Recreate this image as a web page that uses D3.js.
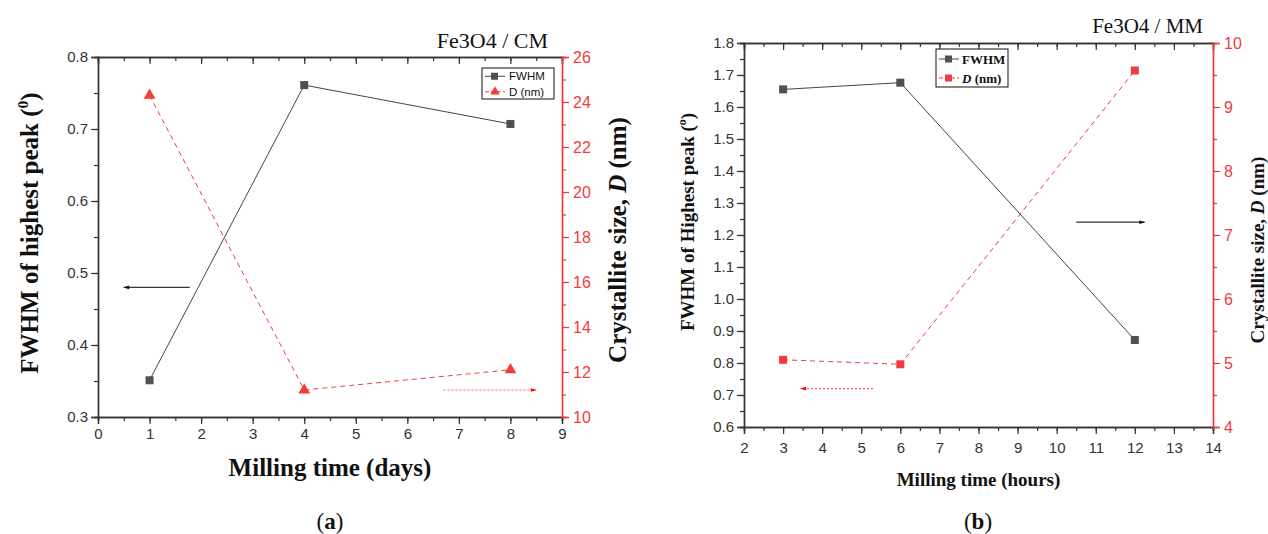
<!DOCTYPE html>
<meta charset="utf-8">
<script src="https://d3js.org/d3.v7.min.js"></script>
<style>
  body { margin: 0; background: #fff; }
  .tick text { font-family: "Liberation Sans", Arial, sans-serif; }
</style>
<div id="chart"></div>
<script>
// panel (a): Fe3O4 / CM
const daysCM = [1, 4, 8];
const fwhmCM = [0.351, 0.761, 0.707];
const sizeCM = [24.3, 11.2, 12.1];
// panel (b): Fe3O4 / MM
const hoursMM = [3, 6, 12];
const fwhmMM = [1.655, 1.676, 0.872];
const sizeMM = [5.05, 4.98, 9.57];

const red = "#f03c3c";
const grey = "#454545";

const svg = d3.select("#chart").append("svg")
  .attr("width", 1268).attr("height", 534);

const defs = svg.append("defs");
function arrowHead(id, color) {
  defs.append("marker").attr("id", id)
    .attr("viewBox", "0 0 10 10").attr("refX", 9).attr("refY", 5)
    .attr("markerWidth", 9).attr("markerHeight", 6).attr("orient", "auto")
    .attr("markerUnits", "userSpaceOnUse")
    .append("path").attr("d", "M0,2 L10,5 L0,8 Z").attr("fill", color);
}
arrowHead("arrBlack", "#111");
arrowHead("arrRed", "red");

function drawPanel(p) {
  const g = svg.append("g");
  const x = d3.scaleLinear().domain(p.xDomain).range([p.left, p.right]);
  const y = d3.scaleLinear().domain(p.yDomain).range([p.bottom, p.top]);
  const y2 = d3.scaleLinear().domain(p.y2Domain).range([p.bottom, p.top]);

  // bottom axis
  g.append("g").attr("transform", `translate(0,${p.bottom})`)
    .call(d3.axisBottom(x).tickValues(d3.range(p.xDomain[0], p.xDomain[1] + 0.01, p.xMinor)).tickSize(4).tickFormat(""));
  g.append("g").attr("transform", `translate(0,${p.bottom})`)
    .call(d3.axisBottom(x).tickValues(d3.range(p.xDomain[0], p.xDomain[1] + 0.01, 1)).tickSize(7).tickPadding(p.xPad).tickFormat(d3.format("d")));
  // top axis, ticks inward
  g.append("g").attr("transform", `translate(0,${p.top})`)
    .call(d3.axisBottom(x).tickValues(d3.range(p.xDomain[0], p.xDomain[1] + 0.01, p.xMinor)).tickSize(4).tickFormat(""));
  g.append("g").attr("transform", `translate(0,${p.top})`)
    .call(d3.axisBottom(x).tickValues(d3.range(p.xDomain[0], p.xDomain[1] + 0.01, 1)).tickSize(7).tickFormat(""));
  // left axis
  g.append("g").attr("transform", `translate(${p.left},0)`)
    .call(d3.axisLeft(y).tickValues(d3.range(p.yDomain[0], p.yDomain[1] + 0.001, p.yMinor)).tickSize(4).tickFormat(""));
  g.append("g").attr("transform", `translate(${p.left},0)`)
    .call(d3.axisLeft(y).tickValues(d3.range(p.yDomain[0], p.yDomain[1] + 0.001, p.yStep)).tickSize(7).tickPadding(3).tickFormat(d3.format(".1f")));
  // right axis (red)
  g.append("g").attr("class", "red").attr("transform", `translate(${p.right},0)`)
    .call(d3.axisRight(y2).tickValues(d3.range(p.y2Domain[0], p.y2Domain[1] + 0.001, p.y2Minor)).tickSize(4).tickFormat(""));
  g.append("g").attr("class", "red").attr("transform", `translate(${p.right},0)`)
    .call(d3.axisRight(y2).tickValues(d3.range(p.y2Domain[0], p.y2Domain[1] + 0.001, p.y2Step)).tickSize(7).tickPadding(4).tickFormat(d3.format("d")));

  g.selectAll(".domain").attr("stroke", "#333").attr("stroke-width", 1.4);
  g.selectAll(".tick line").attr("stroke", "#333").attr("stroke-width", 1.2);
  g.selectAll(".tick text").attr("fill", "#333").attr("font-size", p.tickFont);
  g.selectAll(".red .domain, .red .tick line").attr("stroke", red);
  g.selectAll(".red .tick text").attr("fill", red).attr("font-size", p.tickFont + 1);

  // FWHM series
  const pts = p.xs.map((d, i) => ({ x: d, f: p.fwhm[i], s: p.size[i] }));
  g.append("path").datum(pts)
    .attr("fill", "none").attr("stroke", grey).attr("stroke-width", 1)
    .attr("d", d3.line().x(d => x(d.x)).y(d => y(d.f)));
  g.selectAll(".sq").data(pts).join("rect")
    .attr("x", d => x(d.x) - 4).attr("y", d => y(d.f) - 4)
    .attr("width", 8).attr("height", 8).attr("fill", "#505050");

  // D series
  g.append("path").datum(pts)
    .attr("fill", "none").attr("stroke", red).attr("stroke-width", 1)
    .attr("stroke-dasharray", "5,4")
    .attr("d", d3.line().x(d => x(d.x)).y(d => y2(d.s)));
  if (p.triangle) {
    g.selectAll(".tri").data(pts).join("path")
      .attr("transform", d => `translate(${x(d.x)},${y2(d.s)})`)
      .attr("d", d3.symbol(d3.symbolTriangle, 60)).attr("fill", red);
  } else {
    g.selectAll(".rsq").data(pts).join("rect")
      .attr("x", d => x(d.x) - 4).attr("y", d => y2(d.s) - 4)
      .attr("width", 8).attr("height", 8).attr("fill", red);
  }

  // guide arrows
  g.append("line")
    .attr("x1", x(p.blackArrow[0])).attr("x2", x(p.blackArrow[1]))
    .attr("y1", y(p.blackArrow[2])).attr("y2", y(p.blackArrow[2]))
    .attr("stroke", "#333").attr("stroke-width", 1.2).attr("marker-end", "url(#arrBlack)");
  g.append("line")
    .attr("x1", x(p.redArrow[0])).attr("x2", x(p.redArrow[1]))
    .attr("y1", y2(p.redArrow[2])).attr("y2", y2(p.redArrow[2]))
    .attr("stroke", "#ff6060").attr("stroke-width", 1.2).attr("stroke-dasharray", "2,2")
    .attr("marker-end", "url(#arrRed)");

  // legend
  const lg = g.append("g").attr("transform", `translate(${p.legend[0]},${p.legend[1]})`);
  lg.append("rect").attr("width", p.legend[2]).attr("height", p.legend[3])
    .attr("fill", "#fff").attr("stroke", "#111").attr("stroke-width", 1);
  const rowH = p.legend[3] / 2;
  [0, 1].forEach(i => {
    const cy = rowH * (i + 0.5) + 0.5;
    const col = i === 0 ? grey : red;
    lg.append("line").attr("x1", 3).attr("x2", 23).attr("y1", cy).attr("y2", cy)
      .attr("stroke", col).attr("stroke-width", 1)
      .attr("stroke-dasharray", i === 0 ? null : "4,2");
    if (i === 1 && p.triangle) {
      lg.append("path").attr("transform", `translate(13,${cy})`)
        .attr("d", d3.symbol(d3.symbolTriangle, 40)).attr("fill", red);
    } else {
      lg.append("rect").attr("x", 9).attr("y", cy - 3.5).attr("width", 7).attr("height", 7)
        .attr("fill", i === 0 ? "#505050" : red);
    }
  });
  p.legendText(lg, rowH);

  // title
  g.append("text").attr("x", p.title[0]).attr("y", p.title[1]).attr("text-anchor", "end")
    .attr("font-family", "'Liberation Serif', serif").attr("font-size", p.title[2]).attr("fill", "#111")
    .text(p.titleText);

  // axis titles
  const bold = sel => sel.attr("font-family", "'Liberation Serif', 'Times New Roman', serif")
    .attr("font-weight", "bold").attr("fill", "#111");
  const yl = g.append("text").call(bold).attr("font-size", p.labFont)
    .attr("text-anchor", "middle")
    .attr("transform", `translate(${p.yLab[0]},${p.yLab[1]}) rotate(-90)`);
  yl.append("tspan").text(p.yLabText + " (");
  yl.append("tspan").text(p.degSym).attr("font-size", p.labFont * 0.62).attr("dy", -p.labFont * 0.4);
  yl.append("tspan").text(")").attr("dy", p.labFont * 0.4);

  const y2l = g.append("text").call(bold).attr("font-size", p.labFont)
    .attr("text-anchor", "middle")
    .attr("transform", `translate(${p.y2Lab[0]},${p.y2Lab[1]}) rotate(-90)`);
  y2l.append("tspan").text("Crystallite size, ");
  y2l.append("tspan").text("D").attr("font-style", "italic");
  y2l.append("tspan").text(" (nm)");

  g.append("text").call(bold).attr("font-size", p.labFont).attr("text-anchor", "middle")
    .attr("x", (p.left + p.right) / 2).attr("y", p.xLabY).text(p.xLabText);

  const cap = g.append("text").attr("font-family", "'Liberation Serif', serif").attr("font-size", 23)
    .attr("fill", "#111").attr("text-anchor", "middle")
    .attr("x", p.capX).attr("y", 529);
  cap.append("tspan").text("(");
  cap.append("tspan").text(p.cap).attr("font-weight", "bold");
  cap.append("tspan").text(")");
}

drawPanel({
  left: 98, right: 562, top: 57, bottom: 417,
  xDomain: [0, 9], xMinor: 0.5, xPad: 4,
  yDomain: [0.3, 0.8], yStep: 0.1, yMinor: 0.05,
  y2Domain: [10, 26], y2Step: 2, y2Minor: 1,
  xs: daysCM, fwhm: fwhmCM, size: sizeCM, triangle: true,
  blackArrow: [1.78, 0.5, 0.48], redArrow: [6.7, 8.5, 11.2],
  legend: [482, 68, 72, 31],
  legendText: (lg, rowH) => {
    ["FWHM", "D (nm)"].forEach((t, i) => lg.append("text").attr("x", 27).attr("y", rowH * (i + 0.5) + 4.5)
      .attr("font-family", "'Liberation Sans', Arial, sans-serif").attr("font-size", 11.5).attr("fill", "#111").text(t));
  },
  title: [548, 48, 22], titleText: "Fe3O4 / CM",
  tickFont: 15, labFont: 25,
  yLab: [38, 233], yLabText: "FWHM of highest peak", degSym: "0",
  y2Lab: [626, 240], xLabY: 476, xLabText: "Milling time (days)",
  capX: 330, cap: "a"
});

drawPanel({
  left: 744, right: 1213, top: 43, bottom: 427,
  xDomain: [2, 14], xMinor: 0.5, xPad: 8,
  yDomain: [0.6, 1.8], yStep: 0.1, yMinor: 0.05,
  y2Domain: [4, 10], y2Step: 1, y2Minor: 0.5,
  xs: hoursMM, fwhm: fwhmMM, size: sizeMM, triangle: false,
  blackArrow: [10.5, 12.25, 1.24], redArrow: [5.3, 3.45, 4.6],
  legend: [936, 49, 72, 38],
  legendText: (lg, rowH) => {
    const t1 = lg.append("text").attr("x", 26).attr("y", rowH * 0.5 + 5)
      .attr("font-family", "'Liberation Serif', serif").attr("font-weight", "bold").attr("font-size", 13).attr("fill", "#111");
    t1.text("FWHM");
    const t2 = lg.append("text").attr("x", 26).attr("y", rowH * 1.5 + 5)
      .attr("font-family", "'Liberation Serif', serif").attr("font-weight", "bold").attr("font-size", 13).attr("fill", "#111");
    t2.append("tspan").text("D").attr("font-style", "italic");
    t2.append("tspan").text(" (nm)");
  },
  title: [1203, 33, 21], titleText: "Fe3O4 / MM",
  tickFont: 15, labFont: 19,
  yLab: [694, 222], yLabText: "FWHM of Highest peak", degSym: "o",
  y2Lab: [1264, 250], xLabY: 486, xLabText: "Milling time (hours)",
  capX: 978, cap: "b"
});
</script>
